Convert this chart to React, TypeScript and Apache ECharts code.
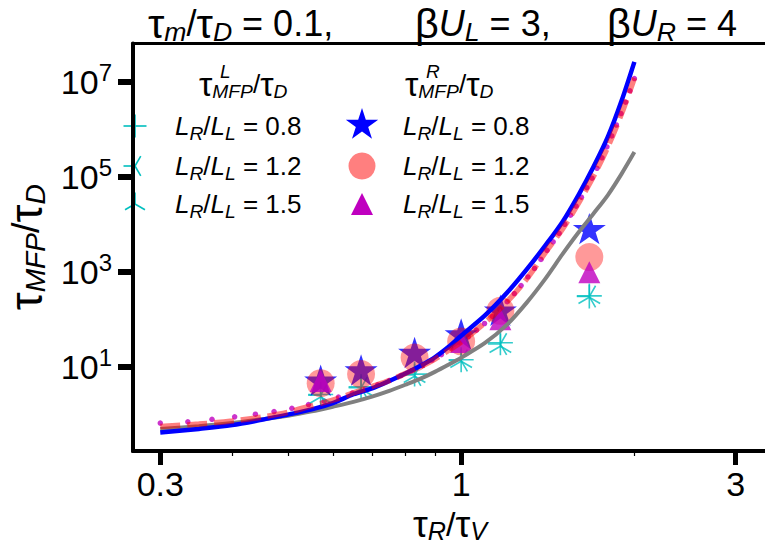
import React, { useEffect, useRef } from 'react';
import * as echarts from 'echarts';

const FONT = '"Liberation Sans", Arial, Helvetica, sans-serif';
const CYAN = '#00bfbf';
const MAGENTA = '#bf00bf';
const BLUE = '#0000ff';
const RED_A = 'rgba(255,0,0,0.5)';
const GRAY = '#808080';

// axes
const X_MIN = 0.269;
const X_MAX = 3.4;
const Y_MIN = 0.168;
const Y_MAX = 6.4e7;
const xTickValues = [0.3, 1, 3];
const xTickLabels = ['0.3', '1', '3'];
const xMinorTicks = [0.4, 0.5, 0.6, 0.7, 0.8, 0.9, 2];
const yTickValues = [10, 1e3, 1e5, 1e7];
const yTickExponents = ['1', '3', '5', '7'];

// theory curves
const curveX = [0.3, 0.35, 0.4, 0.45, 0.5, 0.55, 0.6, 0.65, 0.7, 0.75, 0.8, 0.85, 0.9, 0.95, 1.0, 1.1, 1.2, 1.3, 1.4, 1.5, 1.6, 1.7, 1.8, 1.9, 2.0];
const blueCurve = [0.41, 0.49, 0.59, 0.76, 0.98, 1.26, 1.74, 2.63, 3.5, 5.0, 7.2, 10.5, 15.8, 26, 45, 120, 355, 1120, 3550, 11200, 41700, 166000, 708000, 3.98e6, 2.63e7];
const redCurve = [0.55, 0.62, 0.72, 0.87, 1.1, 1.51, 2.0, 2.8, 3.8, 5.1, 7.2, 10, 14.5, 21.9, 33, 85, 229, 708, 2510, 7940, 28200, 105000, 437000, 2.14e6, 1.2e7];
const grayCurve = [0.49, 0.56, 0.65, 0.78, 0.93, 1.15, 1.45, 1.82, 2.34, 3.09, 4.17, 5.6, 7.8, 11, 15.5, 31.6, 76, 224, 708, 2340, 6760, 17000, 41700, 115000, 331000];

// magenta dotted curve (sample points)
const dotX = [0.300, 0.335, 0.369, 0.404, 0.439, 0.473, 0.508, 0.543, 0.578, 0.612, 0.647, 0.682, 0.716, 0.751, 0.786, 0.820, 0.855, 0.890, 0.924, 0.959, 0.994, 1.029, 1.063, 1.098, 1.133, 1.167, 1.202, 1.237, 1.271, 1.306, 1.341, 1.376, 1.410, 1.445, 1.480, 1.514, 1.549, 1.584, 1.618, 1.653, 1.688, 1.722, 1.757, 1.792, 1.827, 1.861, 1.896, 1.931, 1.965, 2.000];
const dotY = [0.65, 0.69, 0.78, 0.88, 1.0, 1.14, 1.33, 1.6, 1.88, 2.29, 2.79, 3.43, 4.17, 5.13, 6.53, 8.22, 10.5, 13.8, 18.0, 24.5, 32.4, 42.7, 58.9, 81.3, 115, 162, 234, 347, 513, 776, 1175, 1820, 2820, 4270, 6460, 10000, 15500, 24000, 37200, 58900, 93300, 151000, 251000, 427000, 724000, 1.23e6, 2.14e6, 3.72e6, 6.46e6, 1.17e7];

// simulation points
const pointX = [0.57, 0.67, 0.83, 1.0, 1.17, 1.67];
const tauL08 = [2.6, 3.8, 7.0, 14, 32, 310];
const tauL12 = [2.5, 3.6, 6.7, 13.5, 30, 300];
const tauL15 = [2.3, 3.4, 6.3, 13, 27, 290];
const tauR08 = [5.2, 8.5, 20, 49, 155, 8100];
const tauR12 = [4.5, 7.0, 15.6, 34, 150, 2040];
const tauR15 = [5.0, null, null, 33, 100, 980];

const legendLabels = ['0.8', '1.2', '1.5'];

const STAR = 'path://M100,0 L122.45,69.1 L195.1,69.1 L136.33,111.8 L158.78,180.9 L100,138.2 L41.22,180.9 L63.67,111.8 L4.9,69.1 L77.55,69.1 Z';
const PLUS = 'path://M0,50 L100,50 M50,0 L50,100';
const TRI_LEFT = 'path://M0,0 M100,100 M50,50 L0,50 M50,50 L75,93.3 M50,50 L75,6.7';
const TRI_UP = 'path://M0,0 M100,100 M50,50 L50,0 M50,50 L6.7,75 M50,50 L93.3,75';

function zip(xs: number[], ys: (number | null)[]) {
  const out: number[][] = [];
  xs.forEach((x, i) => {
    const y = ys[i];
    if (y != null) out.push([x, y]);
  });
  return out;
}

function rich(base: number, gScale = 1.3, subDrop = 0.55) {
  const common = { fontFamily: FONT, color: '#000', fontWeight: 'normal' };
  return {
    n: { ...common, fontSize: base },
    g: { ...common, fontSize: base * gScale },
    i: { ...common, fontSize: base, fontStyle: 'italic' },
    s: { ...common, fontSize: base * 0.74, fontStyle: 'italic', padding: [base * subDrop, 0, 0, 0] },
  };
}

function starPoints(cx: number, cy: number, R: number) {
  const pts: number[][] = [];
  for (let k = 0; k < 10; k++) {
    const r = k % 2 === 0 ? R : R * 0.382;
    const a = (k * 36 * Math.PI) / 180;
    pts.push([cx + r * Math.sin(a), cy - r * Math.cos(a)]);
  }
  return pts;
}

function buildGraphic() {
  const els: any[] = [];
  const rows = [126, 166, 204];
  const lx = 135;
  const rx = 362;
  const cyanLine = (x1: number, y1: number, x2: number, y2: number) => ({
    type: 'line', shape: { x1, y1, x2, y2 }, style: { stroke: CYAN, lineWidth: 1.6 }, silent: true,
  });
  const a = 11.5;
  els.push(cyanLine(lx - a, rows[0], lx + a, rows[0]));
  els.push(cyanLine(lx, rows[0] - a, lx, rows[0] + a));
  els.push(cyanLine(lx, rows[1], lx - a, rows[1]));
  els.push(cyanLine(lx, rows[1], lx + a * 0.5, rows[1] + a * 0.866));
  els.push(cyanLine(lx, rows[1], lx + a * 0.5, rows[1] - a * 0.866));
  els.push(cyanLine(lx, rows[2], lx, rows[2] - a));
  els.push(cyanLine(lx, rows[2], lx - a * 0.866, rows[2] + a * 0.5));
  els.push(cyanLine(lx, rows[2], lx + a * 0.866, rows[2] + a * 0.5));
  els.push({ type: 'polygon', shape: { points: starPoints(rx, rows[0] - 1, 17) }, style: { fill: BLUE }, silent: true });
  els.push({ type: 'circle', shape: { cx: rx, cy: rows[1], r: 13.5 }, style: { fill: RED_A }, silent: true });
  els.push({ type: 'polygon', shape: { points: [[rx, rows[2] - 11], [rx - 11, rows[2] + 11], [rx + 11, rows[2] + 11]] }, style: { fill: MAGENTA }, silent: true });
  const r26 = rich(26, 1.15);
  legendLabels.forEach((lab, i) => {
    const txt = `{i|L}{s|R}{n|/}{i|L}{s|L}{n| = ${lab}}`;
    els.push({ type: 'text', x: 175, y: rows[i], style: { text: txt, rich: r26, verticalAlign: 'middle', align: 'left' }, silent: true });
    els.push({ type: 'text', x: 403, y: rows[i], style: { text: txt, rich: r26, verticalAlign: 'middle', align: 'left' }, silent: true });
  });
  const rh = rich(26, 1.3);
  const hdr = '{g|τ}{s|MFP}{n|/}{g|τ}{s|D}';
  els.push({ type: 'text', x: 199, y: 84, style: { text: hdr, rich: rh, verticalAlign: 'middle', align: 'left' }, silent: true });
  els.push({ type: 'text', x: 220, y: 71, style: { text: 'L', fontSize: 19, fontStyle: 'italic', fontFamily: FONT, fill: '#000', verticalAlign: 'middle' }, silent: true });
  els.push({ type: 'text', x: 405, y: 84, style: { text: hdr, rich: rh, verticalAlign: 'middle', align: 'left' }, silent: true });
  els.push({ type: 'text', x: 426, y: 71, style: { text: 'R', fontSize: 19, fontStyle: 'italic', fontFamily: FONT, fill: '#000', verticalAlign: 'middle' }, silent: true });
  return els;
}

function buildOption(): any {
  const rt = rich(36, 1.15, 0.45);
  const rx = rich(34, 1.1, 0.38);
  const ry = rich(38, 1.2, 0.5);
  return {
    animation: false,
    backgroundColor: '#fff',
    title: [
      { text: '{g|τ}{s|m}{n|/}{g|τ}{s|D}{n| = 0.1,}', left: 148, top: 2, padding: 0, textStyle: { rich: rt } },
      { text: '{g|β}{i|U}{s|L}{n| = 3,}', left: 415, top: 2, padding: 0, textStyle: { rich: rt } },
      { text: '{g|β}{i|U}{s|R}{n| = 4}', left: 607, top: 2, padding: 0, textStyle: { rich: rt } },
    ],
    grid: {
      left: 133, top: 43.5, width: 634, height: 407.5, show: true, borderColor: '#000', borderWidth: 3,
      containLabel: false, outerBoundsMode: 'none',
    },
    xAxis: [
      {
        type: 'log', logBase: 10, min: X_MIN, max: X_MAX, position: 'bottom',
        axisLine: { show: true, onZero: false, lineStyle: { color: '#000', width: 4 } },
        axisTick: { show: true, customValues: xTickValues, length: 14, lineStyle: { color: '#000', width: 5 } },
        axisLabel: {
          customValues: xTickValues, margin: 16, color: '#000', fontSize: 34, fontFamily: FONT,
          formatter: (v: number) => xTickLabels[xTickValues.findIndex((t) => Math.abs(t - v) / t < 1e-3)] ?? '',
        },
        splitLine: { show: false },
        name: '{g|τ}{s|R}{n|/}{g|τ}{s|V}', nameLocation: 'middle', nameGap: 32,
        nameTextStyle: { rich: rx },
      },
      {
        type: 'log', logBase: 10, min: X_MIN, max: X_MAX, position: 'bottom',
        axisLine: { show: false },
        axisTick: { show: true, customValues: xMinorTicks, length: 5, lineStyle: { color: '#000', width: 1.2 } },
        axisLabel: { show: false },
        splitLine: { show: false },
      },
    ],
    yAxis: {
      type: 'log', logBase: 10, min: Y_MIN, max: Y_MAX,
      axisLine: { show: true, onZero: false, lineStyle: { color: '#000', width: 4 } },
      axisTick: { show: true, customValues: yTickValues, length: 15, lineStyle: { color: '#000', width: 6 } },
      axisLabel: {
        customValues: yTickValues, margin: 21,
        formatter: (v: number) => {
          const idx = yTickValues.findIndex((t) => Math.abs(t - v) / t < 1e-3);
          return idx >= 0 ? `{b|10}{p|${yTickExponents[idx]}}` : '';
        },
        rich: { b: { fontSize: 34, fontFamily: FONT, color: '#000' }, p: { fontSize: 24, fontFamily: FONT, color: '#000', padding: [0, 0, 18, 0] } },
      },
      splitLine: { show: false },
      name: '{g|τ}{s|MFP}{n|/}{g|τ}{s|D}', nameLocation: 'middle', nameGap: 70,
      nameTextStyle: { rich: ry },
    },
    series: [
      { type: 'line', name: 'gray', data: zip(curveX, grayCurve), symbol: 'none', smooth: 0.3, lineStyle: { color: GRAY, width: 4 }, silent: true },
      { type: 'line', name: 'blue', data: zip(curveX, blueCurve), symbol: 'none', smooth: 0.3, lineStyle: { color: BLUE, width: 4.5 }, silent: true },
      { type: 'line', name: 'red dashed', data: zip(curveX, redCurve), symbol: 'none', smooth: 0.3, lineStyle: { color: RED_A, width: 5.5, type: [20, 7] }, silent: true },
      { type: 'scatter', name: 'magenta dotted', data: zip(dotX, dotY), symbol: 'circle', symbolSize: 5.5, itemStyle: { color: MAGENTA }, silent: true },
      { type: 'scatter', name: 'L 0.8', data: zip(pointX, tauL08), symbol: PLUS, symbolSize: 25, itemStyle: { color: 'none', borderColor: CYAN, borderWidth: 1.6 }, silent: true },
      { type: 'scatter', name: 'L 1.2', data: zip(pointX, tauL12), symbol: TRI_LEFT, symbolSize: 25, itemStyle: { color: 'none', borderColor: CYAN, borderWidth: 1.6 }, silent: true },
      { type: 'scatter', name: 'L 1.5', data: zip(pointX, tauL15), symbol: TRI_UP, symbolSize: 25, itemStyle: { color: 'none', borderColor: CYAN, borderWidth: 1.6 }, silent: true },
      { type: 'scatter', name: 'R 0.8', data: zip(pointX, tauR08), symbol: STAR, symbolSize: [33, 31.4], itemStyle: { color: BLUE }, silent: true },
      { type: 'scatter', name: 'R 1.2', data: zip(pointX, tauR12), symbol: 'circle', symbolSize: 28, itemStyle: { color: RED_A }, silent: true },
      { type: 'scatter', name: 'R 1.5', data: zip(pointX, tauR15), symbol: 'triangle', symbolSize: 22, itemStyle: { color: MAGENTA }, silent: true },
    ],
    graphic: buildGraphic(),
  };
}

export default function App() {
  const ref = useRef<HTMLDivElement>(null);
  useEffect(() => {
    if (!ref.current) return;
    const chart = echarts.init(ref.current, undefined, { renderer: 'svg' });
    chart.setOption(buildOption());
    return () => chart.dispose();
  }, []);
  return <div ref={ref} style={{ position: 'fixed', left: 0, top: 0, width: 765, height: 546, background: '#fff' }} />;
}
